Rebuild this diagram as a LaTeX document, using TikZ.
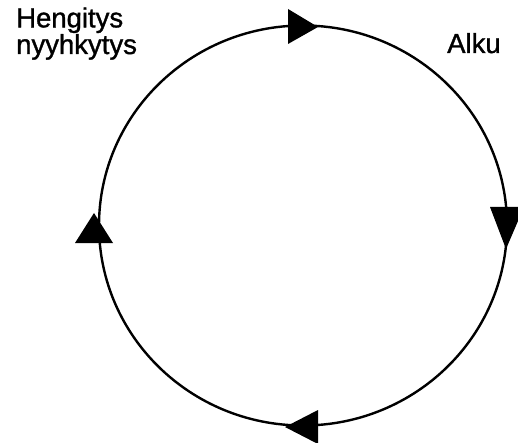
\documentclass[tikz,border=0pt]{standalone}
\usepackage{fontspec}
\newfontfamily\labelfont[FakeBold=1.2]{Liberation Sans}
\begin{document}
\begin{tikzpicture}[x=1pt,y=-1pt,
  cycleline/.style={line width=2.4pt,black},
  headtri/.style={fill=black,draw=none},
  steplabel/.style={font=\labelfont\fontsize{27.5}{23}\selectfont,align=left,inner sep=0pt,anchor=base west}]
  \useasboundingbox (0,0) rectangle (518,443);
  % the cycle
  \draw[cycleline] (303,225.5) ellipse [x radius=204, y radius=200];
  % direction marks, clockwise
  \fill[headtri] (288,9) -- (318,27) -- (288,44) -- cycle;
  \fill[headtri] (490,207) -- (524,207) -- (506,249) -- cycle;
  \fill[headtri] (318,410) -- (318,444) -- (285,427) -- cycle;
  \fill[headtri] (75,243) -- (94,213) -- (113,243) -- cycle;
  % labels
  \node[steplabel] (alku) at (447,53) {Alku};
  \node[steplabel] (hengitys) at (16,54) {Hengitys\\nyyhkytys};
\end{tikzpicture}
\end{document}
